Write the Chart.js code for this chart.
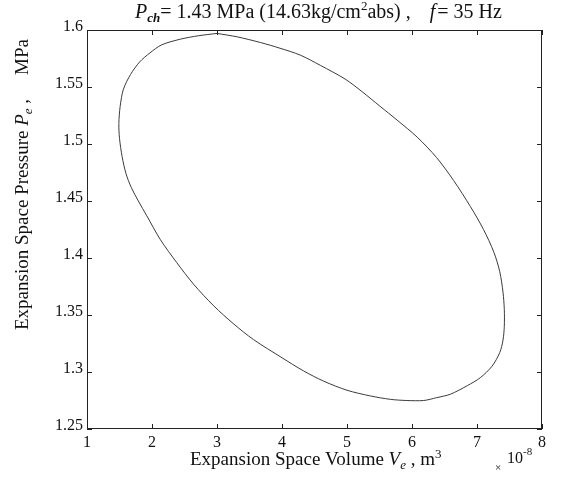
<!DOCTYPE html>
<html lang="en">
<head>
<meta charset="UTF-8">
<title>Expansion Space P-V Loop</title>
<script src="https://cdn.jsdelivr.net/npm/chart.js@4/dist/chart.umd.min.js"></script>
<style>
    html, body { margin: 0; padding: 0; background: #fff; }
    #wrap { width: 565px; height: 478px; }
</style>
</head>
<body>
<div id="wrap"><canvas id="pv-chart" width="565" height="478"></canvas></div>
<script>
    const volume = [
        3.00, 3.31, 3.67, 3.97, 4.28, 4.59, 4.97, 5.23, 5.51, 5.77,
        6.08, 6.38, 6.64, 6.90, 7.10, 7.26, 7.35, 7.40, 7.42, 7.42,
        7.40, 7.35, 7.23, 7.05, 6.85, 6.59, 6.38, 6.18, 5.92, 5.67,
        5.36, 5.00, 4.64, 4.33, 4.00, 3.56, 3.26, 2.95, 2.64, 2.38,
        2.13, 1.92, 1.79, 1.68, 1.60, 1.54, 1.50, 1.49, 1.51, 1.56,
        1.67, 1.81, 1.97, 2.15, 2.44, 2.72, 3.00
    ];
    // Expansion space pressure (MPa), same order
    const pressure = [
        1.597, 1.594, 1.589, 1.584, 1.578, 1.569, 1.557, 1.546, 1.533, 1.521,
        1.506, 1.488, 1.468, 1.445, 1.425, 1.405, 1.388, 1.370, 1.355, 1.340,
        1.328, 1.317, 1.305, 1.295, 1.288, 1.2805, 1.2775, 1.275, 1.275, 1.276,
        1.279, 1.284, 1.292, 1.301, 1.3125, 1.3285, 1.342, 1.358, 1.377, 1.396,
        1.416, 1.437, 1.450, 1.462, 1.474, 1.489, 1.505, 1.518, 1.533, 1.548,
        1.561, 1.572, 1.580, 1.587, 1.592, 1.595, 1.597
    ];

    const xTicks = [1, 2, 3, 4, 5, 6, 7, 8];
    const xTickLabels = ['1', '2', '3', '4', '5', '6', '7', '8'];
    const yTicks = [1.25, 1.3, 1.35, 1.4, 1.45, 1.5, 1.55, 1.6];
    const yTickLabels = ['1.25', '1.3', '1.35', '1.4', '1.45', '1.5', '1.55', '1.6'];

    const SERIF = '"Liberation Serif", "DejaVu Serif", serif';

    /**
     * Draws a row of text pieces one after another (used for sub/superscripts)
     */
    function drawRuns(ctx, runs, x, y) {
        runs.forEach(run => {
            ctx.font = run.font;
            ctx.fillText(run.t, x, y + (run.dy || 0));
            x += ctx.measureText(run.t).width + (run.gap || 0);
        });
        return x;
    }

    // MATLAB style box, inward ticks and the rich-text labels
    const frameAndText = {
        id: 'frameAndText',
        afterDraw(chart) {
            const { ctx, chartArea: a, scales: { x, y } } = chart;
            ctx.save();
            ctx.strokeStyle = '#222';
            ctx.lineWidth = 1;
            ctx.strokeRect(a.left + 0.5, a.top + 0.5, a.width - 1, a.height - 1);

            ctx.beginPath();
            xTicks.forEach(v => {
                const px = Math.round(x.getPixelForValue(v)) + 0.5;
                ctx.moveTo(px, a.bottom); ctx.lineTo(px, a.bottom - 5);
                ctx.moveTo(px, a.top); ctx.lineTo(px, a.top + 5);
            });
            yTicks.forEach(v => {
                const py = Math.round(y.getPixelForValue(v)) + 0.5;
                ctx.moveTo(a.left, py); ctx.lineTo(a.left + 5, py);
                ctx.moveTo(a.right, py); ctx.lineTo(a.right - 5, py);
            });
            ctx.stroke();

            ctx.fillStyle = '#111';
            ctx.textBaseline = 'alphabetic';
            ctx.textAlign = 'left';

            // Title
            drawRuns(ctx, [
                { t: 'P', font: 'italic 20px ' + SERIF },
                { t: 'ch', font: 'italic bold 13px ' + SERIF, dy: 4 },
                { t: '= 1.43 MPa (14.63kg/cm', font: '20px ' + SERIF },
                { t: '2', font: '13px ' + SERIF, dy: -8 },
                { t: 'abs) ,', font: '20px ' + SERIF, gap: 19 },
                { t: 'f', font: 'italic 20px ' + SERIF, gap: 2 },
                { t: '= 35 Hz', font: '20px ' + SERIF }
            ], 135, 18);

            // x axis title
            drawRuns(ctx, [
                { t: 'Expansion Space Volume ', font: '19px ' + SERIF },
                { t: 'V', font: 'italic 19px ' + SERIF },
                { t: 'e', font: 'italic 13px ' + SERIF, dy: 4 },
                { t: ' , m', font: '19px ' + SERIF },
                { t: '3', font: '13px ' + SERIF, dy: -7 }
            ], 190, 465);

            // exponent of the x axis
            ctx.font = '11px ' + SERIF;
            ctx.fillText('\u00d7', 495, 471);
            drawRuns(ctx, [
                { t: '10', font: '16px ' + SERIF },
                { t: '-8', font: '11px ' + SERIF, dy: -8 }
            ], 507, 463);

            // y axis title, rotated
            ctx.translate(28, 330);
            ctx.rotate(-Math.PI / 2);
            drawRuns(ctx, [
                { t: 'Expansion Space Pressure ', font: '19px ' + SERIF },
                { t: 'P', font: 'italic 19px ' + SERIF },
                { t: 'e', font: 'italic 13px ' + SERIF, dy: 4 },
                { t: ' ,', font: '19px ' + SERIF }
            ], 0, 0);
            ctx.font = '19px ' + SERIF;
            ctx.fillText('MPa', 255, 0);
            ctx.restore();
        }
    };

    const points = volume.map((v, i) => ({ x: v, y: pressure[i] }));

    new Chart(document.getElementById('pv-chart'), {
        type: 'scatter',
        data: {
            datasets: [{
                data: points,
                showLine: true,
                fill: false,
                borderColor: '#3a3a3a',
                borderWidth: 1,
                pointRadius: 0,
                tension: 0.3
            }]
        },
        options: {
            responsive: false,
            animation: false,
            layout: { padding: { top: 30, right: 23, left: 0, bottom: 0 } },
            plugins: { legend: { display: false }, tooltip: { enabled: false } },
            scales: {
                x: {
                    type: 'linear',
                    min: 1,
                    max: 8,
                    afterBuildTicks: s => { s.ticks = xTicks.map(v => ({ value: v })); },
                    afterFit: s => { s.height = 49; },
                    grid: { display: false, drawTicks: false },
                    border: { display: false },
                    ticks: {
                        padding: 4,
                        color: '#111',
                        font: { family: SERIF, size: 16 },
                        callback: (v, i) => xTickLabels[i]
                    }
                },
                y: {
                    type: 'linear',
                    min: 1.25,
                    max: 1.6,
                    afterBuildTicks: s => { s.ticks = yTicks.map(v => ({ value: v })); },
                    afterFit: s => { s.width = 87; },
                    grid: { display: false, drawTicks: false },
                    border: { display: false },
                    ticks: {
                        padding: 4,
                        labelOffset: -3,
                        color: '#111',
                        font: { family: SERIF, size: 16 },
                        callback: (v, i) => yTickLabels[i]
                    }
                }
            }
        },
        plugins: [frameAndText]
    });
</script>
</body>
</html>
